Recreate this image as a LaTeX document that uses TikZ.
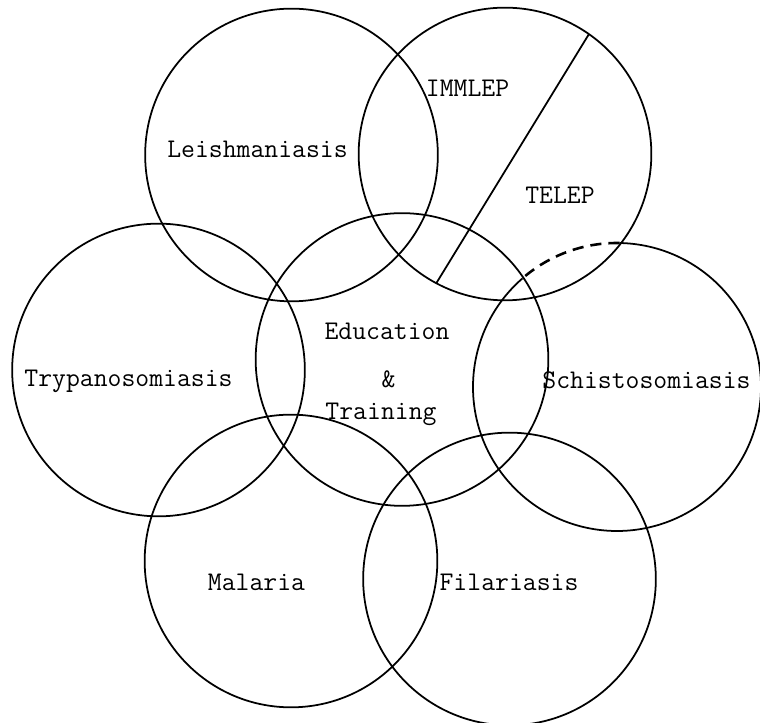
\documentclass[tikz,border=0pt]{standalone}
\begin{document}
\begin{tikzpicture}[
    ring/.style={circle, draw, line width=1.5pt, minimum size=8.78cm, outer sep=0pt},
    every node/.style={font=\fontsize{23}{28}\selectfont\ttfamily, inner sep=0pt}
]

\useasboundingbox (0,0) rectangle (22.8,21.69);

% Top row
\node[ring] (leish) at (8.745,17.04) {};
\node[ring] (lep) at (15.15,17.07) {};

% Middle row
\node[ring] (trypa) at (4.755,10.59) {};
\node[ring] (edu) at (12.06,10.905) {};
\node[circle, minimum size=8.64cm, outer sep=0pt] (schisto) at (18.51,10.08) {};

% Bottom row
\node[ring] (malaria) at (8.73,4.86) {};
\node[ring] (filaria) at (15.285,4.32) {};

% Schistosomiasis, dashed where it meets the leprosy circle
\draw[line width=1.5pt] (schisto.131) arc[start angle=131, end angle=449, radius=4.32];
\draw[line width=2.2pt, dash pattern=on 9.5pt off 6pt] (schisto.89) arc[start angle=89, end angle=131, radius=4.32];

% Split of the leprosy circle
\draw[line width=1.5pt] (lep.55) -- (lep.242);

% Labels
\node[anchor=base] (tleish) at (7.725,16.95) {Leishmaniasis};
\node[anchor=base] (timm) at (14.025,18.78) {IMMLEP};
\node[anchor=base] (ttel) at (16.8,15.57) {TELEP};
\node[anchor=base] (ttrypa) at (3.855,10.09) {Trypanosomiasis};
\node[anchor=base] (tedu) at (11.61,11.49) {Education};
\node[anchor=base] (tamp) at (11.655,10.05) {\&};
\node[anchor=base] (ttrain) at (11.43,9.09) {Training};
\node[anchor=base] (tschisto) at (19.395,10.02) {Schistosomiasis};
\node[anchor=base] (tmalaria) at (7.695,3.96) {Malaria};
\node[anchor=base] (tfilaria) at (15.27,3.96) {Filariasis};

\end{tikzpicture}
\end{document}
